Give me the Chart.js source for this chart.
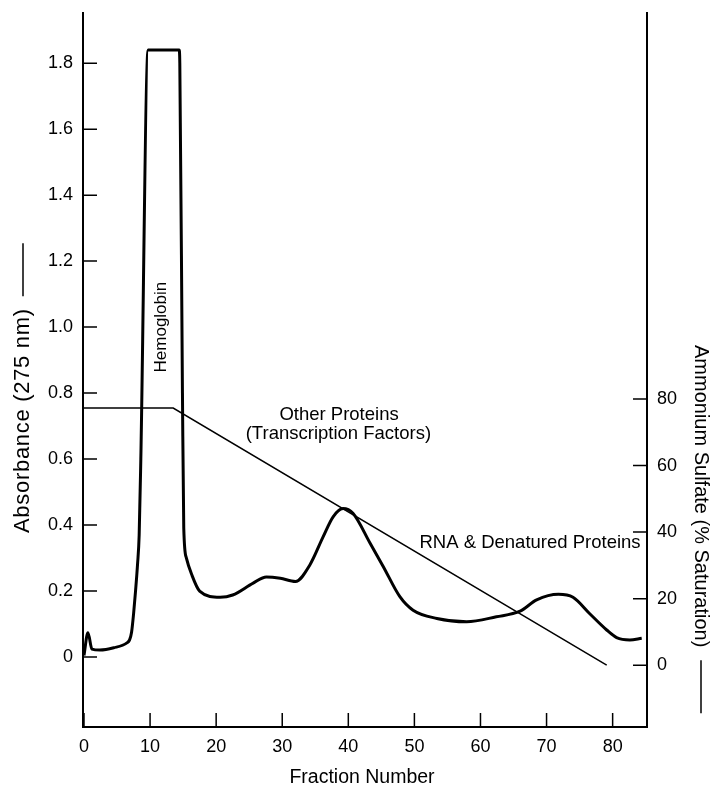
<!DOCTYPE html>
<html>
<head>
<meta charset="utf-8">
<title>Fraction profile</title>
<script src="https://cdn.jsdelivr.net/npm/chart.js@4/dist/chart.umd.min.js"></script>
<style>
  body { margin: 0; background: #fff; }
  #wrap { width: 712px; height: 786px; }
</style>
</head>
<body>
<div id="wrap"><canvas id="chart" width="712" height="786"></canvas></div>
<script>
// absorbance trace (275 nm)
const fractions = [0, 0.6, 1.2, 2.4, 4.5, 6.5, 6.9, 7.2, 7.5, 7.8, 8.1, 8.35, 8.6, 9.7, 14.4, 14.5, 14.9, 15.1, 15.5, 16.3, 17.5,
    20.6, 22.5, 25.6, 27.6, 29.7, 32.0, 34.2, 36.2, 37.7, 39.2, 40.7, 43.3, 45.3, 47.8, 49.8,
    53.4, 57.9, 62.4, 66.0, 68.5, 71.8, 74.0, 76.5, 79.1, 80.6, 82.6, 84.4];
const absorbance = [0.005, 0.074, 0.024, 0.021, 0.028, 0.043, 0.052, 0.075, 0.13, 0.2, 0.28, 0.37, 0.6, 1.84, 1.84, 1.8, 0.8, 0.39, 0.3, 0.25, 0.2,
    0.181, 0.188, 0.224, 0.243, 0.239, 0.229, 0.28, 0.365, 0.425, 0.45, 0.436, 0.345, 0.274, 0.183, 0.142,
    0.117, 0.107, 0.122, 0.139, 0.173, 0.19, 0.181, 0.132, 0.082, 0.059, 0.052, 0.057];

// ammonium sulfate gradient (% saturation)
const saltFractions = [0, 13.5, 79.1];
const saltPercent = [77.3, 77.3, 0];

const fractionTicks = [0, 10, 20, 30, 40, 50, 60, 70, 80];
const absorbanceTicks = [0, 0.2, 0.4, 0.6, 0.8, 1.0, 1.2, 1.4, 1.6, 1.8];
const saltTicks = [0, 20, 40, 60, 80];

const FONT = '"Liberation Sans", Arial, Helvetica, sans-serif';

function pairs(xs, ys) {
    return xs.map((x, i) => ({ x: x, y: ys[i] }));
}

// ticks point inward and the titles/labels are hand placed
const decor = {
    id: 'decor',
    afterDraw(chart) {
        const ctx = chart.ctx;
        const a = chart.chartArea;
        const sx = chart.scales.x, sy = chart.scales.y, s2 = chart.scales.y2;
        ctx.save();
        ctx.strokeStyle = '#000';
        ctx.lineWidth = 1.5;
        ctx.beginPath();
        sy.ticks.forEach(t => {
            const p = sy.getPixelForValue(t.value);
            ctx.moveTo(a.left, p); ctx.lineTo(a.left + 14, p);
        });
        s2.ticks.forEach(t => {
            const p = s2.getPixelForValue(t.value);
            ctx.moveTo(a.right - 14, p); ctx.lineTo(a.right, p);
        });
        sx.ticks.forEach(t => {
            const p = sx.getPixelForValue(t.value);
            ctx.moveTo(p, a.bottom); ctx.lineTo(p, a.bottom - 14);
        });
        ctx.stroke();

        ctx.fillStyle = '#000';
        ctx.textBaseline = 'middle';

        // peak labels
        ctx.font = '18.5px ' + FONT;
        ctx.textAlign = 'center';
        ctx.fillText('Other Proteins', sx.getPixelForValue(38.6), sy.getPixelForValue(0.735));
        ctx.fillText('(Transcription Factors)', sx.getPixelForValue(38.5), sy.getPixelForValue(0.675));
        ctx.fillText('RNA & Denatured Proteins', sx.getPixelForValue(67.5), sy.getPixelForValue(0.345));

        ctx.save();
        ctx.font = '17px ' + FONT;
        ctx.translate(sx.getPixelForValue(11.75), sy.getPixelForValue(1.0));
        ctx.rotate(-Math.PI / 2);
        ctx.fillText('Hemoglobin', 0, 0);
        ctx.restore();

        // axis titles
        ctx.font = '19.5px ' + FONT;
        ctx.fillText('Fraction Number', 362, 778);

        ctx.save();
        ctx.font = '22px ' + FONT;
        ctx.letterSpacing = '0.7px';
        ctx.textAlign = 'left';
        ctx.translate(23, 533);
        ctx.rotate(-Math.PI / 2);
        ctx.fillText('Absorbance (275 nm)', 0, 0);
        let w = ctx.measureText('Absorbance (275 nm)').width;
        ctx.beginPath();
        ctx.moveTo(w + 12, 0); ctx.lineTo(w + 65, 0);
        ctx.stroke();
        ctx.restore();

        ctx.save();
        ctx.font = '20px ' + FONT;
        ctx.textAlign = 'left';
        ctx.translate(701, 345);
        ctx.rotate(Math.PI / 2);
        ctx.fillText('Ammonium Sulfate (% Saturation)', 0, 0);
        w = ctx.measureText('Ammonium Sulfate (% Saturation)').width;
        ctx.beginPath();
        ctx.moveTo(w + 13, 0); ctx.lineTo(w + 66, 0);
        ctx.stroke();
        ctx.restore();

        ctx.restore();
    }
};

// fixed box sizes so the plot area lands where the figure has it
function fitY(width) {
    return s => { s.width = width; s.paddingTop = 0; s.paddingBottom = 0; };
}

new Chart(document.getElementById('chart'), {
    type: 'line',
    data: {
        datasets: [{
            label: 'Absorbance',
            data: pairs(fractions, absorbance),
            yAxisID: 'y',
            borderColor: '#000',
            borderWidth: 3,
            pointRadius: 0,
            cubicInterpolationMode: 'monotone'
        }, {
            label: 'Ammonium sulfate',
            data: pairs(saltFractions, saltPercent),
            yAxisID: 'y2',
            borderColor: '#000',
            borderWidth: 1.5,
            pointRadius: 0,
            tension: 0
        }]
    },
    options: {
        responsive: false,
        animation: false,
        layout: { padding: { top: 13, left: 0, right: 0, bottom: 0 } },
        plugins: {
            legend: { display: false },
            tooltip: { enabled: false }
        },
        scales: {
            x: {
                type: 'linear',
                min: -0.15,
                max: 85.2,
                afterBuildTicks: s => { s.ticks = fractionTicks.map(v => ({ value: v })); },
                afterFit: s => { s.height = 59; s.paddingLeft = 0; s.paddingRight = 0; },
                grid: { drawOnChartArea: false, drawTicks: false },
                border: { color: '#000', width: 2 },
                ticks: { color: '#000', padding: 9, font: { family: FONT, size: 18 } }
            },
            y: {
                position: 'left',
                min: -0.212,
                max: 1.952,
                afterBuildTicks: s => { s.ticks = absorbanceTicks.map(v => ({ value: v })); },
                afterFit: fitY(83),
                grid: { drawOnChartArea: false, drawTicks: false },
                border: { color: '#000', width: 2 },
                ticks: {
                    color: '#000', padding: 10, font: { family: FONT, size: 18 },
                    callback: v => v === 0 ? '0' : v.toFixed(1)
                }
            },
            y2: {
                position: 'right',
                min: -18.6,
                max: 196.1,
                afterBuildTicks: s => { s.ticks = saltTicks.map(v => ({ value: v })); },
                afterFit: fitY(65),
                grid: { drawOnChartArea: false, drawTicks: false },
                border: { color: '#000', width: 2 },
                ticks: { color: '#000', padding: 10, font: { family: FONT, size: 18 } }
            }
        }
    },
    plugins: [decor]
});
</script>
</body>
</html>
